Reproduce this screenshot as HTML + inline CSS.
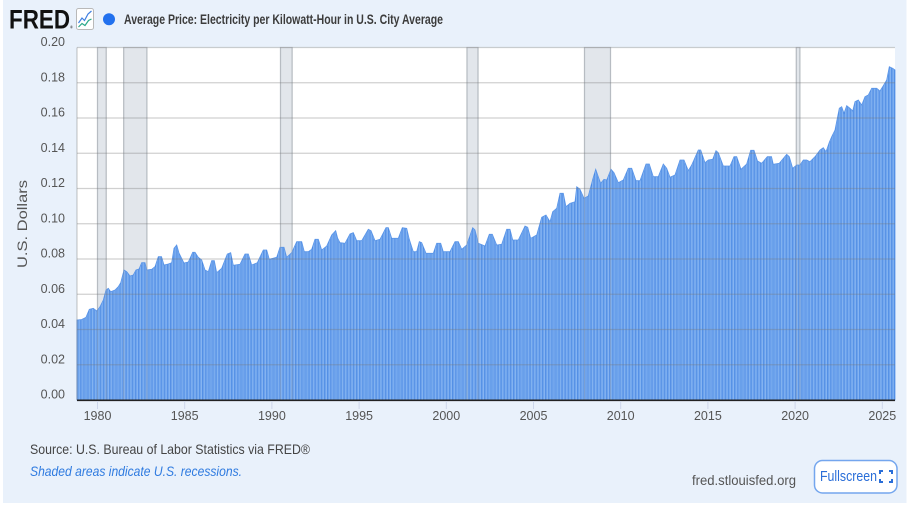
<!DOCTYPE html>
<html><head><meta charset="utf-8"><style>
html,body{margin:0;padding:0;background:#fff;width:910px;height:510px;overflow:hidden}
svg{display:block}
text{font-family:"Liberation Sans",sans-serif}
</style></head><body>
<svg width="910" height="510" viewBox="0 0 910 510" xmlns="http://www.w3.org/2000/svg">
<defs>
<pattern id="bars" patternUnits="userSpaceOnUse" x="77" y="0" width="2.907" height="10">
<rect x="0" y="0" width="2.907" height="10" fill="#8fbcf4"/>
<rect x="0" y="0" width="0.6" height="10" fill="#2f74dc"/>
<rect x="1.453" y="0" width="0.6" height="10" fill="#4a88e4"/>
</pattern>
</defs>
<rect x="0" y="0" width="910" height="510" fill="#ffffff"/>
<rect x="3" y="0" width="903.5" height="503" fill="#e9f1fb"/>

<!-- header -->
<text x="9" y="28.5" font-size="27" font-weight="bold" fill="#111" textLength="61" lengthAdjust="spacingAndGlyphs">FRED</text>
<text x="70" y="28.5" font-size="4" fill="#111">®</text>
<rect x="76.5" y="8.5" width="17" height="21" rx="2" fill="#fff" stroke="#b9b9b9"/>
<polyline points="78.5,23 82,18 84.5,20.5 88,14 91.5,11" fill="none" stroke="#3f7fe0" stroke-width="1.2"/>
<polyline points="78.5,27 82,23.5 85,25.5 88.5,20.5 91.5,19" fill="none" stroke="#2aa889" stroke-width="1.2"/>
<circle cx="109" cy="19.3" r="6" fill="#2271ee"/>
<text x="124" y="24" font-size="13.5" font-weight="bold" fill="#3c3c3c" textLength="319" lengthAdjust="spacingAndGlyphs">Average Price: Electricity per Kilowatt-Hour in U.S. City Average</text>

<!-- plot bg -->
<rect x="77" y="47.5" width="818" height="352.5" fill="#ffffff"/>

<!-- recessions -->
<g fill="#e2e6eb" stroke="#c8ccd1" stroke-width="1.2">
<rect x="97.5" y="47.5" width="8.7" height="352.5"/>
<rect x="123.7" y="47.5" width="23.2" height="352.5"/>
<rect x="280.5" y="47.5" width="11.6" height="352.5"/>
<rect x="467" y="47.5" width="11" height="352.5"/>
<rect x="584.5" y="47.5" width="26" height="352.5"/>
<rect x="796.3" y="47.5" width="3.6" height="352.5"/>
</g>

<!-- bars -->
<polygon fill="url(#bars)" stroke="#5a95e8" stroke-width="0.8" points="77,320 81.7,319.5 86,317.3 89.3,309.3 93.3,308.3 96.7,311 100,306.7 103.3,300 106,290 108.3,288.3 110.7,291.7 115,290 118.3,286.7 120.7,282.7 124,270 126.7,271.7 130,276 133.3,275 136,270 139,269 141.7,262.7 145,262.7 146.7,270 151.7,269.3 155,266.7 158.3,256.7 161.5,256.7 164,265 168.3,264 171.7,262.7 174,248.3 176.7,245 179,253 182,259 184,263 188.3,262 192.7,252.3 195,252.3 198.3,257.3 201.7,260 205,270 208.3,271.7 211.7,260.7 214.3,260.7 216.7,272.7 221.7,268.3 227.3,254 230.7,252.7 233.3,265.3 240,264.3 245,254 248.3,254 251.7,265 257.3,262.7 263.3,250 266.7,250 269.3,259.3 276.7,257.3 280,247.3 284,247.3 286.7,257.3 291.7,252.7 296.7,241.7 301.7,241.7 304.3,251.7 308.3,251.7 311.7,249.3 315,239.3 318.3,239.3 321.7,250 326.7,246 331.7,235 335.7,230.7 337.7,238.3 340,242.7 345,243.3 350,234 353.3,232.7 356.7,240.7 361.7,240.7 368.3,229.3 371,230.7 375,240.7 380,239.3 386,227.7 388.3,227.7 391.7,238.3 398.3,238.3 402.3,227.7 406.7,228.3 409.3,239.3 413.3,251.7 416.7,251.7 419.3,241.7 421.7,242.7 426,253.3 433.3,253.3 436.7,243.3 440.7,243.3 443.3,251.7 450,251.7 455,241.7 458.3,241.7 461.7,249.3 466.7,245 472.7,227.7 475,230 478.3,243.3 485,246 489.3,234.3 492.3,234.3 496.7,245 501.7,244.3 506.7,229.3 510,229.3 512.7,240 518.3,240 525,226 527.7,227.3 530.7,238.3 536.7,235 541.7,217.3 546,215 550,221.7 552.7,211.7 556.7,208.3 560,193.3 563.3,193.3 566,206.7 570,203.3 575,201.7 576.7,186.7 580,189.3 584,198.3 588.3,196 592.7,179.3 595.7,169.3 598.3,176.7 600.7,183.3 604,179.3 606.7,180 611,169.3 614,172.7 618.3,182.7 623.3,180 628.3,168.3 631.7,168.3 636,180.7 640,180.7 646,164 649.3,164 653.3,176.7 658.3,176.7 663.3,164 666.7,168.3 670,177.3 675,175 680,160 684,160 688.3,170.7 691.7,165 698.3,150 700.7,150 705,162.7 708.3,160 712.7,159.3 716,150.7 718.3,152.7 723.3,166 730,166 734,156.7 736.7,156.7 741,169.3 746.7,164 750.7,150.3 754,150.3 757.5,161 761.7,163.3 767.3,156.7 771.5,156.7 773.3,164.3 779.3,163.3 786.7,154.3 789.3,156.7 792.7,168.3 796.7,165 800,165 803.3,160 806.7,160 810,161.7 815,156.7 820,150 823.3,147.7 826,151.7 829.3,142.3 831.7,136.7 835,130 837.3,118.3 839.3,108.3 841.7,106.7 844,113.3 846.7,105.7 850,108.3 852.7,111 855,101.7 858.3,100 861.7,105 865,96.7 868.3,95 871.7,88.3 876.7,88.3 880,91 883.3,85.7 886.7,80 889.3,66.7 892.7,68.3 895,70 895,400 77,400"/>

<!-- recession edges on top -->
<g stroke="#9aa0a8" stroke-width="1.2" opacity="0.35">
<line x1="97.5" y1="47.5" x2="97.5" y2="400"/><line x1="106.2" y1="47.5" x2="106.2" y2="400"/>
<line x1="123.7" y1="47.5" x2="123.7" y2="400"/><line x1="146.9" y1="47.5" x2="146.9" y2="400"/>
<line x1="280.5" y1="47.5" x2="280.5" y2="400"/><line x1="292.1" y1="47.5" x2="292.1" y2="400"/>
<line x1="467" y1="47.5" x2="467" y2="400"/><line x1="478" y1="47.5" x2="478" y2="400"/>
<line x1="584.5" y1="47.5" x2="584.5" y2="400"/><line x1="610.5" y1="47.5" x2="610.5" y2="400"/>
<line x1="796.3" y1="47.5" x2="796.3" y2="400"/><line x1="799.9" y1="47.5" x2="799.9" y2="400"/>
</g>

<!-- gridlines -->
<g stroke="#787878" stroke-opacity="0.35" stroke-width="1.3">
<line x1="77" y1="47.5" x2="895" y2="47.5"/>
<line x1="77" y1="82.75" x2="895" y2="82.75"/>
<line x1="77" y1="118" x2="895" y2="118"/>
<line x1="77" y1="153.25" x2="895" y2="153.25"/>
<line x1="77" y1="188.5" x2="895" y2="188.5"/>
<line x1="77" y1="223.75" x2="895" y2="223.75"/>
<line x1="77" y1="259" x2="895" y2="259"/>
<line x1="77" y1="294.25" x2="895" y2="294.25"/>
<line x1="77" y1="329.5" x2="895" y2="329.5"/>
<line x1="77" y1="364.75" x2="895" y2="364.75"/>
<line x1="77" y1="47.5" x2="77" y2="400"/>
</g>
<line x1="77" y1="400.3" x2="895" y2="400.3" stroke="#222" stroke-width="1.6"/>

<!-- x ticks -->
<g stroke="#ccd6eb" stroke-width="1">
<line x1="97.5" y1="401" x2="97.5" y2="409"/><line x1="184.7" y1="401" x2="184.7" y2="409"/>
<line x1="271.9" y1="401" x2="271.9" y2="409"/><line x1="359.1" y1="401" x2="359.1" y2="409"/>
<line x1="446.3" y1="401" x2="446.3" y2="409"/><line x1="533.5" y1="401" x2="533.5" y2="409"/>
<line x1="620.7" y1="401" x2="620.7" y2="409"/><line x1="707.9" y1="401" x2="707.9" y2="409"/>
<line x1="795.1" y1="401" x2="795.1" y2="409"/><line x1="882.3" y1="401" x2="882.3" y2="409"/>
</g>

<!-- y labels -->
<g font-size="12.5" fill="#555" text-anchor="end">
<text x="65" y="46.2">0.20</text>
<text x="65" y="81.5">0.18</text>
<text x="65" y="116.7">0.16</text>
<text x="65" y="152">0.14</text>
<text x="65" y="187.2">0.12</text>
<text x="65" y="222.5">0.10</text>
<text x="65" y="257.7">0.08</text>
<text x="65" y="293">0.06</text>
<text x="65" y="328.2">0.04</text>
<text x="65" y="363.5">0.02</text>
<text x="65" y="398.7">0.00</text>
</g>
<text transform="translate(27,224) rotate(-90)" font-size="14" fill="#555" text-anchor="middle" textLength="88" lengthAdjust="spacingAndGlyphs">U.S. Dollars</text>

<!-- x labels -->
<g font-size="12.5" fill="#555" text-anchor="middle">
<text x="97.5" y="420">1980</text>
<text x="184.7" y="420">1985</text>
<text x="271.9" y="420">1990</text>
<text x="359.1" y="420">1995</text>
<text x="446.3" y="420">2000</text>
<text x="533.5" y="420">2005</text>
<text x="620.7" y="420">2010</text>
<text x="707.9" y="420">2015</text>
<text x="795.1" y="420">2020</text>
<text x="882.3" y="420">2025</text>
</g>

<!-- footer -->
<text x="30" y="454" font-size="14" fill="#444" textLength="280" lengthAdjust="spacingAndGlyphs">Source: U.S. Bureau of Labor Statistics via FRED®</text>
<text x="30" y="476" font-size="14" font-style="italic" fill="#2f7be0" textLength="212" lengthAdjust="spacingAndGlyphs">Shaded areas indicate U.S. recessions.</text>
<text x="692" y="485" font-size="14" fill="#555" textLength="104" lengthAdjust="spacingAndGlyphs">fred.stlouisfed.org</text>
<rect x="814.5" y="460.5" width="82.5" height="32.5" rx="8" fill="#fff" stroke="#74a6ee" stroke-width="1.5"/>
<text x="820" y="481" font-size="14.5" fill="#2a6ed8" textLength="57" lengthAdjust="spacingAndGlyphs">Fullscreen</text>
<g fill="none" stroke="#2a6ed8" stroke-width="2">
<polyline points="880,474 880,471 883,471"/>
<polyline points="889,471 892,471 892,474"/>
<polyline points="880,479 880,482 883,482"/>
<polyline points="889,482 892,482 892,479"/>
</g>
</svg>
</body></html>
